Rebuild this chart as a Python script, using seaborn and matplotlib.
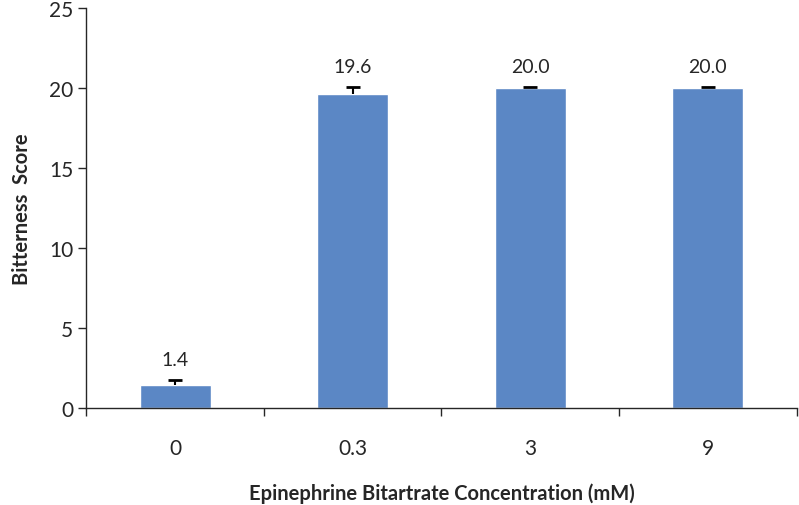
import matplotlib
matplotlib.use("Agg")
import matplotlib.pyplot as plt
import seaborn as sns
import pandas as pd
import numpy as np
from matplotlib.ticker import FixedLocator

concentrations = ["0", "0.3", "3", "9"]
scores = [1.4, 19.6, 20.0, 20.0]
errors = [0.35, 0.45, 0.05, 0.05]

df = pd.DataFrame({"conc": concentrations, "score": scores})

sns.set_style("ticks")
plt.rcParams['font.family'] = ['Lato', 'DejaVu Sans']

fig = plt.figure(figsize=(7.99, 5.06), dpi=100)
ax = fig.add_axes([0.108, 0.192, 0.889, 0.79])

sns.barplot(data=df, x="conc", y="score", color="#5B87C5", saturation=1,
            width=0.4, errorbar=None, ax=ax)

# upper-only error bars
x = np.arange(len(concentrations))
tops = np.array(scores) + np.array(errors)
ax.vlines(x, scores, tops, colors="black", linewidth=1.5, zorder=3)
ax.hlines(tops, x - 0.04, x + 0.04, colors="black", linewidth=2, zorder=3)

for xi, t, v in zip(x, tops, scores):
    ax.text(xi, t + 1.3, f"{v:.1f}", ha="center", va="center", fontsize=14)

ax.set_ylim(0, 25)
ax.set_xlim(-0.5, len(concentrations) - 0.5)
ax.set_yticks(range(0, 26, 5))
ax.tick_params(axis="y", labelsize=15, length=6, width=1, direction="out")
ax.tick_params(axis="x", which="major", labelsize=15, length=0, pad=22)
ax.xaxis.set_minor_locator(FixedLocator(np.arange(-0.5, len(concentrations), 1.0)))
ax.tick_params(axis="x", which="minor", length=6, width=1, direction="out")

sns.despine(ax=ax, top=True, right=True)
ax.spines["left"].set_linewidth(1)
ax.spines["bottom"].set_linewidth(1)

ax.set_xlabel("Epinephrine Bitartrate Concentration (mM)", fontsize=14.5,
              fontweight="bold", labelpad=17)
ax.set_ylabel("Bitterness  Score", fontsize=14.5, fontweight="bold", labelpad=12)

fig.savefig("out.png", dpi=100)
